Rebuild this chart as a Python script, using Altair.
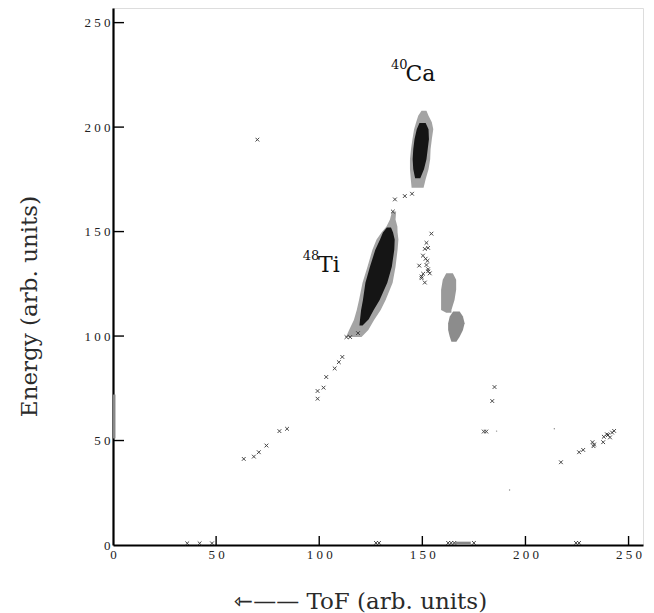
import altair as alt
import pandas as pd

# ---- axis ticks ----
tick_values = [50, 100, 150, 200, 250]

# ---- 48Ti locus: energy rows with ToF extent of the outer halo and dense core ----
ti_energy = [99.5, 102.9, 107.7, 112.5, 117.3, 125.5, 133.2, 141.3, 146.2, 149.5, 152.4, 155.8, 159.6]
ti_halo_lo = [113.0, 114.5, 116.8, 118.2, 119.3, 121.0, 123.4, 125.8, 127.8, 130.2, 132.6, 134.3, 135.3]
ti_halo_hi = [120.5, 123.8, 126.6, 129.8, 132.2, 135.6, 137.0, 138.0, 138.4, 138.0, 137.9, 137.0, 137.3]
ti_core_energy = [105.0, 108.0, 112.5, 117.3, 125.5, 133.2, 141.3, 146.2, 149.5, 152.0]
ti_core_lo = [119.5, 119.8, 120.3, 121.2, 122.4, 124.6, 127.2, 129.5, 130.9, 132.8]
ti_core_hi = [121.0, 124.0, 126.4, 129.3, 133.0, 135.2, 136.4, 136.6, 135.8, 134.8]

# ---- 40Ca locus ----
ca_energy = [171.0, 175.0, 179.8, 184.6, 189.4, 194.2, 199.0, 202.3, 205.4, 207.8]
ca_halo_lo = [144.8, 144.4, 144.0, 144.0, 144.5, 145.2, 146.0, 147.0, 148.0, 149.6]
ca_halo_hi = [150.6, 151.6, 153.0, 153.8, 154.0, 154.6, 155.3, 154.6, 153.0, 152.0]
ca_core_energy = [175.5, 179.8, 184.6, 189.4, 194.2, 199.0, 202.0]
ca_core_lo = [146.5, 145.6, 145.3, 145.6, 146.2, 147.3, 148.6]
ca_core_hi = [149.0, 150.8, 152.0, 152.6, 153.2, 153.0, 151.6]

# ---- two small groups to the right of the Ti locus ----
b_energy = [111.1, 112.5, 117.3, 122.1, 126.9, 130.1]
b_lo = [161.6, 159.1, 159.1, 159.1, 159.9, 161.6]
b_hi = [164.1, 164.1, 165.6, 166.4, 166.4, 164.8]
c_energy = [97.3, 99.7, 102.9, 106.1, 109.3, 111.7]
c_lo = [164.1, 163.3, 162.5, 162.5, 163.3, 164.9]
c_hi = [166.5, 168.1, 169.7, 170.5, 169.7, 168.1]

# ---- isolated events (ToF, Energy) ----
ev_tof = [63.4, 68.3, 70.7, 74.4, 80.7, 84.4, 99.2, 99.2, 102.1, 103.4, 107.5, 109.5, 111.2,
          113.2, 115.0, 118.8, 135.7, 136.7, 141.5, 145.0, 70.0,
          154.4, 152.0, 152.8, 151.2, 150.3, 151.6, 152.5, 148.5, 152.0, 152.8, 150.4, 149.6,
          151.2, 149.6, 153.6, 152.8,
          185.0, 183.9, 179.8, 181.0, 217.2, 226.0, 228.0, 232.5, 233.3, 233.0, 237.7,
          238.0, 240.0, 242.0, 243.0, 239.5, 241.0,
          127.5, 129.0, 162.5, 164.0, 165.5, 175.0, 224.5, 226.0, 36.0, 42.0, 48.0]
ev_energy = [41.2, 42.3, 44.4, 47.6, 54.5, 55.6, 70.0, 73.7, 75.3, 80.4, 84.5, 87.5, 90.0,
             99.5, 99.5, 101.4, 159.6, 165.4, 167.0, 168.1, 194.0,
             149.0, 144.6, 142.2, 141.7, 138.5, 137.0, 136.0, 133.7, 134.0, 132.0, 129.8, 128.5,
             125.6, 127.7, 130.0, 131.0,
             75.6, 68.9, 54.3, 54.3, 39.6, 44.4, 45.5, 49.2, 48.1, 47.3, 49.2,
             51.8, 52.6, 53.8, 54.6, 53.0, 51.5,
             1.0, 1.0, 1.0, 1.0, 1.0, 1.0, 1.0, 1.0, 0.8, 0.8, 0.8]

# tiny isolated dots
dot_tof = [192.3, 214.0, 186.0]
dot_energy = [26.3, 55.6, 54.5]

# events piled on the axes (overflow channels)
edge_x_lo = [0.0, 166.0]
edge_x_hi = [1.2, 173.5]
edge_y_lo = [51.0, 0.0]
edge_y_hi = [72.0, 1.6]

# annotation labels: (ToF, Energy) of the text anchor
iso_mass = ["40", "48"]
iso_name = ["Ca", "Ti"]
mass_x = [134.8, 92.0]
mass_y = [227.6, 136.2]
name_x = [141.8, 99.4]
name_y = [222.2, 130.6]

W, H = 530, 537
DOM = [0, 257]
xs = alt.Scale(domain=DOM, nice=False, zero=False)
ys = alt.Scale(domain=DOM, nice=False, zero=False)

SERIF = "DejaVu Serif"
TICKFONT = "Liberation Serif"
SPACED = "join(split(datum.label, ''), ' ')"

X_AXIS = alt.Axis(
    values=[0] + tick_values, ticks=False, grid=False,
    domain=True, domainColor="black", domainWidth=2.2,
    labelFont=TICKFONT, labelFontSize=13, labelColor="#222", labelPadding=3,
    labelExpr=SPACED, labelFlush=False,
    title="\u21fd\u2014\u2014 ToF (arb. units)", titleFont=SERIF, titleFontSize=23,
    titleFontWeight="normal", titleColor="#2a2a2a",
    titleX=247, titleY=63, titleBaseline="alphabetic", titleAlign="center",
)
Y_AXIS = alt.Axis(
    values=[0] + tick_values, ticks=False, grid=False,
    domain=True, domainColor="black", domainWidth=2.2,
    labelFont=TICKFONT, labelFontSize=13, labelColor="#222", labelPadding=3,
    labelExpr=SPACED, labelFlush=False,
    title="Energy (arb. units)", titleFont=SERIF, titleFontSize=23,
    titleFontWeight="normal", titleColor="#2a2a2a",
    titleX=-77, titleY=298, titleBaseline="alphabetic", titleAlign="center", titleAngle=-90,
)


def band(energy, lo, hi):
    return pd.DataFrame({"e": energy, "lo": lo, "hi": hi})


def area(df, color):
    return alt.Chart(df).mark_area(orient="horizontal", color=color, opacity=1).encode(
        y=alt.Y("e:Q", scale=ys),
        x=alt.X("lo:Q", scale=xs),
        x2="hi:Q",
    )


# inward tick marks on the bottom and left edges; these layers also own the axes
xticks = alt.Chart(pd.DataFrame({"t": tick_values})).mark_rule(color="black", strokeWidth=1.4).encode(
    x=alt.X("t:Q", scale=xs, axis=X_AXIS),
    y=alt.value(H),
    y2=alt.value(H - 9),
)
yticks = alt.Chart(pd.DataFrame({"t": tick_values})).mark_rule(color="black", strokeWidth=1.4).encode(
    y=alt.Y("t:Q", scale=ys, axis=Y_AXIS),
    x=alt.value(0),
    x2=alt.value(11),
)

HALO = "#a4a4a4"
CORE = "#151515"

layers = [
    area(band(ti_energy, ti_halo_lo, ti_halo_hi), HALO),
    area(band(ti_core_energy, ti_core_lo, ti_core_hi), CORE),
    area(band(ca_energy, ca_halo_lo, ca_halo_hi), HALO),
    area(band(ca_core_energy, ca_core_lo, ca_core_hi), CORE),
    area(band(b_energy, b_lo, b_hi), "#9a9a9a"),
    area(band(c_energy, c_lo, c_hi), "#8c8c8c"),
]

edges = alt.Chart(pd.DataFrame({"x1": edge_x_lo, "x2": edge_x_hi, "y1": edge_y_lo, "y2": edge_y_hi})).mark_rect(
    color="#888"
).encode(
    x=alt.X("x1:Q", scale=xs), x2="x2:Q",
    y=alt.Y("y1:Q", scale=ys), y2="y2:Q",
)

events = alt.Chart(pd.DataFrame({"tof": ev_tof, "en": ev_energy})).mark_point(
    shape="M-1,-1L1,1M1,-1L-1,1", size=14, filled=False, color="#333", strokeWidth=1, opacity=0.9
).encode(
    x=alt.X("tof:Q", scale=xs),
    y=alt.Y("en:Q", scale=ys),
)

dots = alt.Chart(pd.DataFrame({"tof": dot_tof, "en": dot_energy})).mark_circle(
    size=2, color="#555"
).encode(
    x=alt.X("tof:Q", scale=xs),
    y=alt.Y("en:Q", scale=ys),
)

labels = pd.DataFrame({"mass": iso_mass, "name": iso_name, "mx": mass_x, "my": mass_y,
                       "nx": name_x, "ny": name_y})
mass_txt = alt.Chart(labels).mark_text(
    font=SERIF, fontSize=13, align="left", baseline="alphabetic", color="#111"
).encode(
    x=alt.X("mx:Q", scale=xs), y=alt.Y("my:Q", scale=ys), text="mass:N"
)
name_txt = alt.Chart(labels).mark_text(
    font=SERIF, fontSize=22, align="left", baseline="alphabetic", color="#111"
).encode(
    x=alt.X("nx:Q", scale=xs), y=alt.Y("ny:Q", scale=ys), text="name:N"
)

chart = alt.layer(xticks, yticks, edges, *layers, events, dots, mass_txt, name_txt).properties(
    width=W, height=H,
    autosize=alt.AutoSizeParams(type="none"),
    padding={"left": 113, "top": 8, "right": 11, "bottom": 68},
).configure_view(
    stroke="black", strokeWidth=1.5
).configure(background="white")

chart.save("out.html", embed_options={"renderer": "svg", "actions": False})
